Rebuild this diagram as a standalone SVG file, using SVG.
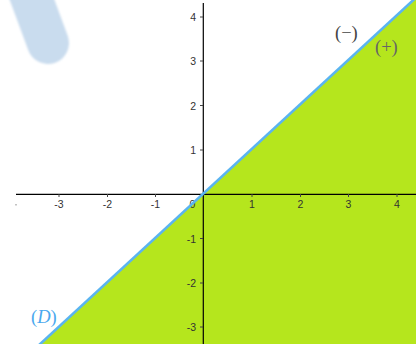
<svg xmlns="http://www.w3.org/2000/svg" width="416" height="344" viewBox="0 0 416 344">
<defs>
<filter id="blur" filterUnits="userSpaceOnUse" x="-40" y="-80" width="160" height="180"><feGaussianBlur stdDeviation="1.2"/></filter>
<style>
.ax{stroke:#000;stroke-width:1.2;fill:none}
.tk{stroke:#444;stroke-width:1;fill:none}
.lx{font-family:"Liberation Sans",Arial,sans-serif;font-size:10.5px;fill:#333;text-anchor:middle}
.ly{font-family:"Liberation Sans",Arial,sans-serif;font-size:10.5px;fill:#333;text-anchor:end}
.sg{font-family:"Liberation Serif","DejaVu Serif",serif;font-size:18.5px}
</style>
</defs>
<rect width="416" height="344" fill="#fff"/>
<g id="blob">
<line x1="17" y1="-41" x2="48" y2="43" stroke="#c9dcee" stroke-width="42" stroke-linecap="round" filter="url(#blur)"/>
</g>
<g id="region">
<polygon points="40.3,344 413.4,0 416,0 416,344" fill="#b5e61d"/>
</g>
<g id="axes">
<line class="ax" x1="16" y1="194.3" x2="416" y2="194.3"/>
<line class="ax" x1="203.3" y1="3" x2="203.3" y2="344"/>
<g class="tk">
<line x1="59" y1="194" x2="59" y2="197"/>
<line x1="107.5" y1="194" x2="107.5" y2="197"/>
<line x1="155.5" y1="194" x2="155.5" y2="197"/>
<line x1="252" y1="194" x2="252" y2="197"/>
<line x1="300.5" y1="194" x2="300.5" y2="197"/>
<line x1="348.5" y1="194" x2="348.5" y2="197"/>
<line x1="397" y1="194" x2="397" y2="197"/>
<line x1="200" y1="17" x2="203" y2="17"/>
<line x1="200" y1="61" x2="203" y2="61"/>
<line x1="200" y1="105.5" x2="203" y2="105.5"/>
<line x1="200" y1="150" x2="203" y2="150"/>
<line x1="200" y1="238.5" x2="203" y2="238.5"/>
<line x1="200" y1="283" x2="203" y2="283"/>
<line x1="200" y1="327" x2="203" y2="327"/>
</g>
<rect x="15.5" y="204" width="1" height="1.5" fill="#888"/>
<text class="lx" x="59" y="208">-3</text>
<text class="lx" x="107.5" y="208">-2</text>
<text class="lx" x="155.5" y="208">-1</text>
<text class="lx" x="192.5" y="208">0</text>
<text class="lx" x="252" y="208">1</text>
<text class="lx" x="300.5" y="208">2</text>
<text class="lx" x="348.5" y="208">3</text>
<text class="lx" x="397" y="208">4</text>
<text class="ly" x="196" y="21">4</text>
<text class="ly" x="196" y="65">3</text>
<text class="ly" x="196" y="109.5">2</text>
<text class="ly" x="196" y="154">1</text>
<text class="ly" x="196" y="242.5">-1</text>
<text class="ly" x="196" y="287">-2</text>
<text class="ly" x="196" y="331">-3</text>
</g>
<g id="connectors">
<line x1="38" y1="346" x2="416" y2="-2.4" stroke="#5ab4f0" stroke-width="2.6"/>
</g>
<g id="labels">
<text class="sg" x="335" y="39" fill="#444">(−)</text>
<text class="sg" x="375" y="53" fill="#666">(+)</text>
<text class="sg" x="31" y="323" fill="#4aa8ee">(<tspan font-style="italic">D</tspan>)</text>
</g>
</svg>
